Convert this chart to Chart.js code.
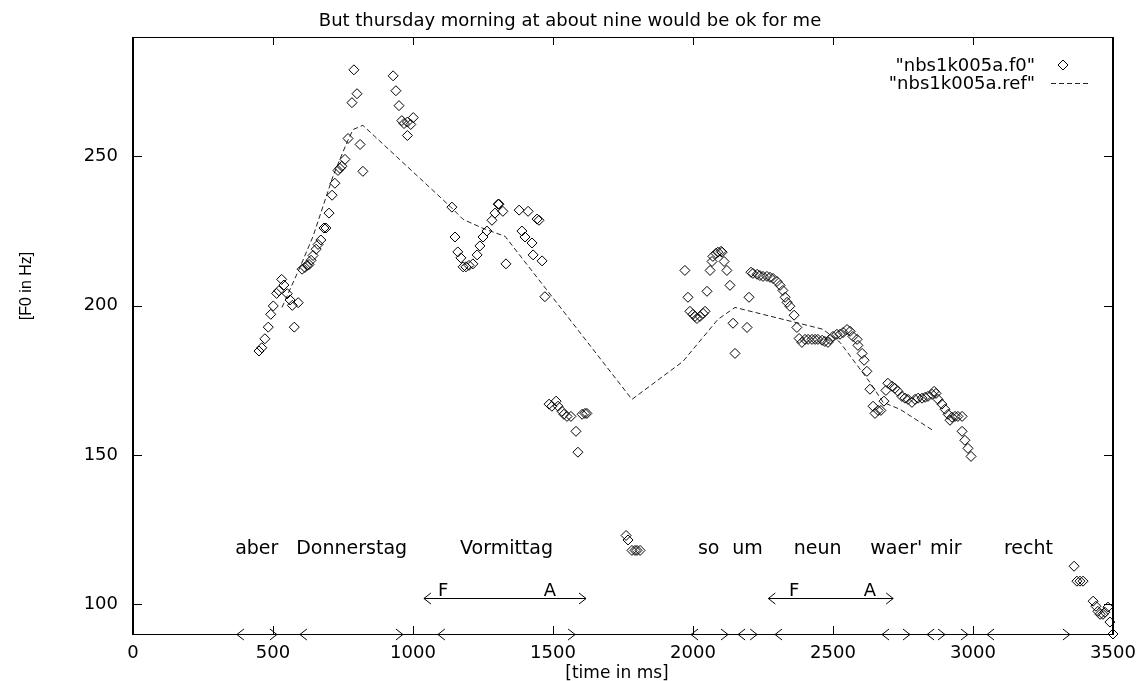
<!DOCTYPE html>
<html>
<head>
<meta charset="utf-8">
<title>F0 contour</title>
<script src="https://cdn.jsdelivr.net/npm/chart.js@4.4.1/dist/chart.umd.min.js"></script>
<style>
  html, body { margin: 0; padding: 0; background: #fff; }
  canvas { display: block; }
</style>
</head>
<body>
<canvas id="f0Chart" width="1139" height="681"></canvas>
<script>
// measured F0 (ms, Hz)
const F0_MS = [
  450, 460, 471, 483, 492, 501, 513, 521, 531, 539, 551, 561, 569, 576, 590,
  604, 614, 622, 629, 636, 643, 654, 661, 671, 682, 689, 700, 711, 721, 732, 739, 746, 757, 768, 782, 789, 800, 811, 821,
  929, 939, 950, 960, 968, 980, 980, 992, 1001,
  1139, 1150, 1160, 1171, 1179, 1189, 1200, 1214, 1229, 1239, 1250, 1264, 1282, 1293, 1304, 1307, 1321, 1332,
  1379, 1389, 1400, 1411, 1425, 1429, 1443, 1450, 1461, 1471,
  1486, 1496, 1511, 1518, 1532, 1539, 1550, 1564, 1582, 1589, 1604, 1614, 1621,
  1761, 1768, 1782, 1793, 1800, 1811,
  1971, 1982, 1989, 2000, 2007, 2014, 2025, 2036, 2043, 2050, 2061, 2068, 2071, 2082, 2089, 2100, 2104, 2111, 2121, 2132, 2143, 2150,
  2193, 2200, 2207, 2214, 2229, 2239, 2250, 2264, 2275, 2286, 2300, 2311, 2321, 2329, 2336, 2346, 2361, 2371,
  2379, 2389, 2400, 2411, 2425, 2436, 2446, 2461, 2471, 2482, 2489, 2500, 2514, 2525, 2536, 2550, 2561, 2571, 2586,
  2589, 2604, 2611, 2621, 2632, 2643, 2650, 2661, 2671, 2682, 2689,
  2696, 2711, 2721, 2732, 2746, 2757, 2768, 2782, 2793, 2804, 2818, 2829, 2839, 2854, 2861,
  2868, 2875, 2889, 2900, 2911, 2918, 2925, 2936, 2946, 2961, 2961, 2971, 2982, 2993,
  3361, 3371, 3382, 3393, 3429, 3439, 3446, 3454, 3464, 3471, 3482, 3489, 3500
];
const F0_HZ = [
  184.8, 185.9, 188.9, 192.8, 197.1, 199.9, 204.1, 205, 208.8, 206.9, 204, 201.9, 200.1, 192.8, 201,
  212.2, 212.8, 213.5, 213.8, 215.2, 216.8, 218.9, 220.5, 222, 226, 226, 231, 237, 241, 245.3, 246, 246.7, 249, 256, 268, 279, 271, 254, 245,
  277, 272, 267, 262, 261, 261.5, 257, 260.7, 263,
  233, 223, 218, 216, 213, 213, 213.5, 214, 217, 220, 223, 225, 228.6, 231, 234, 234, 231.6, 214,
  232, 225, 223, 231.6, 221, 217, 229, 228.6, 215, 203,
  167, 166.3, 168, 166.3, 164.6, 163.6, 162.9, 162.9, 157.9, 150.9, 163.6, 163.9, 163.9,
  123, 121.5, 118, 118, 118, 118,
  211.8, 202.8, 198.1, 197.1, 196.4, 195.7, 196.4, 197.4, 198.1, 204.8, 211.8, 214.8, 216.5, 217.5, 217.9, 218.2, 217.9, 214.8, 211.8, 206.8, 194.1, 184,
  192.7, 202.8, 211.2, 210.8, 210.5, 210.1, 209.8, 209.8, 209.5, 209.1, 208.1, 206.8, 205.1, 202.8, 201.1, 199.8, 196.8, 192.7,
  189, 187.7, 188.7, 188.7, 188.7, 188.7, 188.7, 188.4, 188, 187.7, 188.7, 189.7, 190.4, 190.4, 191, 192, 191.4, 189.7, 188.7,
  186.7, 184, 181.7, 178, 172, 166.3, 163.9, 164.9, 164.9, 168, 171.6,
  174, 173, 172.3, 171.3, 169.6, 169, 168.6, 167.6, 168.6, 169, 169, 169.3, 169.6, 170.3, 171.3,
  170.6, 168.6, 167, 165.3, 163.6, 161.6, 162.6, 162.9, 162.9, 162.9, 157.9, 154.9, 152.2, 149.5,
  112.7, 107.7, 107.7, 107.7, 101, 99.3, 97.6, 96.6, 96.6, 97.3, 99, 94, 90
];

// reference contour (ms, Hz)
const REF_MS = [532, 596, 643, 714, 764, 786, 821, 1132, 1179, 1250, 1329, 1782, 1964, 2089, 2150, 2464, 2525, 2632, 2679, 2739, 2857];
const REF_HZ = [199.4, 212.8, 223.2, 243.3, 254.7, 259.0, 260.4, 233.3, 228.9, 225.9, 223.2, 168.6, 181.3, 195.4, 199.4, 192.1, 187.7, 174.3, 167.6, 165.3, 158.2];

const Y_TICKS = [100, 150, 200, 250];

// word labels and segment boundaries (ms)
const WORDS = ['aber', 'Donnerstag', 'Vormittag', 'so', 'um', 'neun', "waer'", 'mir', 'recht'];
const WORD_MS = [442, 781, 1334, 2056, 2195, 2445, 2726, 2903, 3198];
const SEG_FROM = [371, 596, 1089, 1993, 2161, 2293, 2675, 2836, 3050];
const SEG_TO = [514, 964, 1579, 2125, 2229, 2982, 2775, 2900, 3346];

// F ... A spans (ms)
const FA_FROM = [1039, 2269];
const FA_TO = [1618, 2715];
const F_MS = [1108, 2361];
const A_MS = [1489, 2632];

function arrow(ctx, x1, x2, yy) {
  const hl = 7, hw = 5.5;
  ctx.beginPath();
  ctx.moveTo(x1, yy); ctx.lineTo(x2, yy);
  ctx.moveTo(x1 + hl, yy - hw); ctx.lineTo(x1, yy); ctx.lineTo(x1 + hl, yy + hw);
  ctx.moveTo(x2 - hl, yy - hw); ctx.lineTo(x2, yy); ctx.lineTo(x2 - hl, yy + hw);
  ctx.stroke();
}

const decorations = {
  id: 'decorations',
  afterDraw(chart) {
    const ctx = chart.ctx;
    const a = chart.chartArea;
    const x = chart.scales.x, y = chart.scales.y;
    ctx.save();
    ctx.strokeStyle = '#000';
    ctx.fillStyle = '#000';

    // frame
    ctx.lineWidth = 2;
    ctx.beginPath();
    ctx.moveTo(a.left, a.top); ctx.lineTo(a.left, a.bottom + 1);
    ctx.moveTo(a.right, a.top); ctx.lineTo(a.right, a.bottom + 1);
    ctx.stroke();
    ctx.lineWidth = 1;
    ctx.beginPath();
    ctx.moveTo(a.left, a.top + 0.5); ctx.lineTo(a.right, a.top + 0.5);
    ctx.moveTo(a.left, a.bottom + 0.5); ctx.lineTo(a.right, a.bottom + 0.5);
    // inward ticks, mirrored
    x.ticks.forEach(t => {
      const px = Math.round(x.getPixelForValue(t.value)) + 0.5;
      ctx.moveTo(px, a.bottom); ctx.lineTo(px, a.bottom - 8);
      ctx.moveTo(px, a.top); ctx.lineTo(px, a.top + 8);
    });
    y.ticks.forEach(t => {
      const py = Math.round(y.getPixelForValue(t.value)) + 0.5;
      ctx.moveTo(a.left, py); ctx.lineTo(a.left + 9, py);
      ctx.moveTo(a.right, py); ctx.lineTo(a.right - 9, py);
    });
    ctx.stroke();

    // segment arrows on the time axis
    const axisY = y.getPixelForValue(90) + 0.5;
    SEG_FROM.forEach((s, i) => arrow(ctx, x.getPixelForValue(s), x.getPixelForValue(SEG_TO[i]), axisY));

    // F ... A arrows
    const faY = Math.round(y.getPixelForValue(102)) + 0.5;
    FA_FROM.forEach((s, i) => arrow(ctx, x.getPixelForValue(s), x.getPixelForValue(FA_TO[i]), faY));

    ctx.textAlign = 'center';
    ctx.textBaseline = 'alphabetic';
    ctx.font = '18px "DejaVu Sans"';
    const faText = y.getPixelForValue(102.6);
    F_MS.forEach(v => ctx.fillText('F', x.getPixelForValue(v), faText));
    A_MS.forEach(v => ctx.fillText('A', x.getPixelForValue(v), faText));

    // words
    ctx.font = '19px "DejaVu Sans"';
    const wordY = y.getPixelForValue(116.7);
    WORDS.forEach((w, i) => ctx.fillText(w, x.getPixelForValue(WORD_MS[i]), wordY));

    // title
    ctx.font = '18px "DejaVu Sans"';
    ctx.fillText('But thursday morning at about nine would be ok for me', 570, 26);

    // axis titles
    ctx.font = '17px "DejaVu Sans"';
    ctx.fillText('[time in ms]', 617, 678);
    ctx.save();
    ctx.translate(31, 286);
    ctx.rotate(-Math.PI / 2);
    ctx.font = '16px "Liberation Sans"';
    ctx.fillText('[F0 in Hz]', 0, 0);
    ctx.restore();

    // legend
    ctx.font = '18px "DejaVu Sans"';
    ctx.textAlign = 'right';
    ctx.fillText('"nbs1k005a.f0"', 1035, 71);
    ctx.fillText('"nbs1k005a.ref"', 1035, 89);
    ctx.beginPath();
    ctx.moveTo(1058, 65); ctx.lineTo(1063, 60); ctx.lineTo(1068, 65); ctx.lineTo(1063, 70);
    ctx.closePath();
    ctx.stroke();
    ctx.setLineDash([5, 3]);
    ctx.strokeStyle = '#222';
    ctx.beginPath();
    ctx.moveTo(1051, 83.5); ctx.lineTo(1091, 83.5);
    ctx.stroke();
    ctx.restore();
  }
};

Chart.defaults.font.family = '"DejaVu Sans"';
Chart.defaults.color = '#000';

const ctx = document.getElementById('f0Chart').getContext('2d');
new Chart(ctx, {
  type: 'scatter',
  data: {
    datasets: [{
      label: 'nbs1k005a.f0',
      data: F0_MS.map((v, i) => ({ x: v, y: F0_HZ[i] })),
      pointStyle: 'rectRot',
      pointRadius: 5,
      borderWidth: 1,
      borderColor: '#000',
      backgroundColor: 'rgba(0,0,0,0)',
      clip: false,
    }, {
      label: 'nbs1k005a.ref',
      data: REF_MS.map((v, i) => ({ x: v, y: REF_HZ[i] })),
      showLine: true,
      pointRadius: 0,
      borderColor: '#222',
      borderWidth: 1,
      borderDash: [5, 3],
      tension: 0,
    }],
  },
  options: {
    responsive: false,
    animation: false,
    devicePixelRatio: 1,
    events: [],
    layout: { padding: { left: 0, right: 26, top: 37, bottom: 0 } },
    plugins: {
      legend: { display: false },
      title: { display: false },
      tooltip: { enabled: false },
    },
    scales: {
      x: {
        type: 'linear',
        min: 0,
        max: 3500,
        ticks: {
          stepSize: 500, padding: 9, font: { size: 18 }, maxRotation: 0, autoSkip: false,
          callback: v => String(v),
        },
        grid: { display: false, drawTicks: false },
        border: { display: false },
        afterFit: function(s) { s.height = 47; s.paddingLeft = 0; s.paddingRight = 0; },
      },
      y: {
        type: 'linear',
        min: 90,
        max: 290,
        afterBuildTicks: function(s) { s.ticks = Y_TICKS.map(v => ({ value: v })); },
        ticks: { padding: 15, font: { size: 18 }, callback: v => String(v) },
        grid: { display: false, drawTicks: false },
        border: { display: false },
        afterFit: function(s) { s.width = 133; },
      },
    },
  },
  plugins: [decorations],
});
</script>
</body>
</html>
